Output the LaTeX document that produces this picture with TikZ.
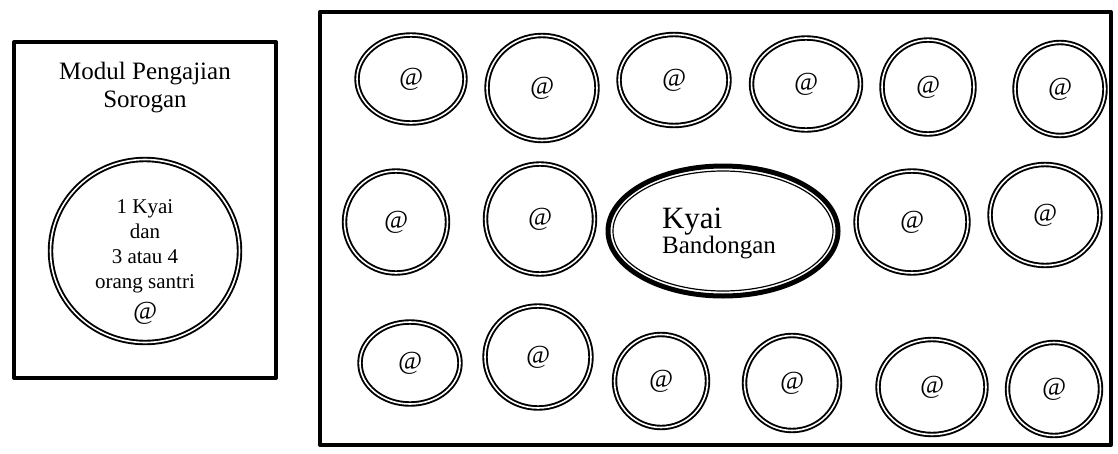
\documentclass[tikz,border=0pt]{standalone}
\usepackage{fontspec}
\setmainfont{Liberation Serif}
\usetikzlibrary{shapes.geometric}

\tikzset{
  seat/.style={ellipse, draw, line width=1.9pt, double, double distance=1.6pt,
    inner sep=0pt, font=\fontsize{26}{26}\selectfont\itshape},
  panel/.style={draw, line width=4pt, inner sep=0pt},
}

\begin{document}
\begin{tikzpicture}[x=1pt, y=-1pt, line join=round]
  \useasboundingbox (0,0) rectangle (1118,453);

  % ==========================================
  % SOROGAN PANEL (LEFT)
  % ==========================================
  \node[panel, minimum width=262pt, minimum height=336pt] (sorogan) at (145,210) {};
  \node[font=\fontsize{25}{28}\selectfont, align=center] (judul) at (145,88) {Modul Pengajian\\Sorogan};

  % Small group: one kyai with a few santri
  \node[seat, minimum width=189pt, minimum height=183pt] (kelompok) at (145,251) {};
  \node[align=center, font=\fontsize{21}{25}\selectfont] (isi) at (145,262)
        {1 Kyai\\dan\\3 atau 4\\orang santri\\[6pt]{\fontsize{26}{26}\selectfont\itshape @}};

  % ==========================================
  % BANDONGAN HALL (RIGHT)
  % ==========================================
  \node[panel, minimum width=791pt, minimum height=433pt] (aula) at (715.5,228.5) {};

  % Kyai in the middle, thick outer ring with a thin inner ring
  \node[ellipse, draw, line width=5pt, minimum width=230pt, minimum height=130pt] (kyai) at (723,231) {};
  \node[ellipse, draw, line width=1.2pt, minimum width=220pt, minimum height=120pt] (kyaiin) at (kyai.center) {};
  \node[align=left] (nama) at (719,233)
        {\fontsize{31}{36}\selectfont Kyai\\\fontsize{25}{30}\selectfont Bandongan};

  % Santri sitting round the kyai (x / y / width / height)
  \foreach \x/\y/\w/\h [count=\i] in {
      411/79/108/88, 542/88/110/105, 674/80/110/91, 806/84/109/92, 928/87/92/94, 1060/89/90/93,
      396/222/103/102, 540/219/109/110, 912/222/112/102, 1045/215/110/101,
      410/363/100/82, 538/357/106/102, 661/381/93/93, 792/383/95/95, 932/387/108/95, 1054/389/93/93}
    \node[seat, minimum width=\w pt, minimum height=\h pt] (santri\i) at (\x,\y) {@};

\end{tikzpicture}
\end{document}
